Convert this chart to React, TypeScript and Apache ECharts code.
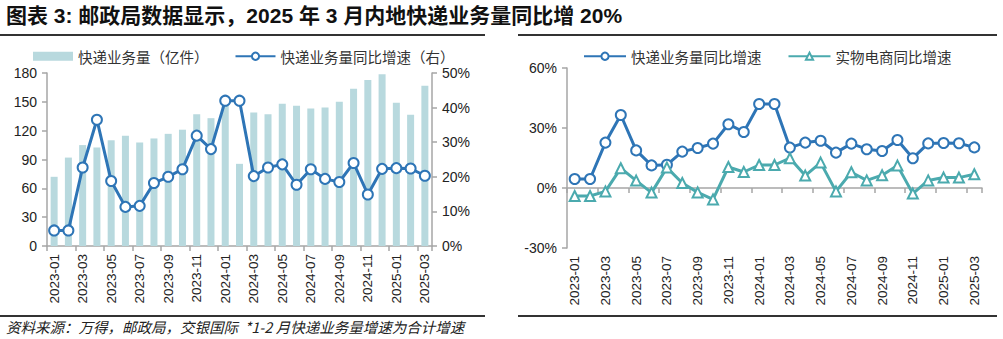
import React, { useEffect, useRef } from "react";
import * as echarts from "echarts";

const months = [
  "2023-01","2023-02","2023-03","2023-04","2023-05","2023-06","2023-07","2023-08","2023-09","2023-10","2023-11","2023-12",
  "2024-01","2024-02","2024-03","2024-04","2024-05","2024-06","2024-07","2024-08","2024-09","2024-10","2024-11","2024-12",
  "2025-01","2025-02","2025-03",
];
const volume = [72, 92, 105, 102.5, 110, 114.7, 107.7, 111.9, 116.7, 121, 137, 133, 146, 85.5, 139, 137, 148, 146, 143, 144, 150, 163.7, 172.7, 178.6, 149, 136.5, 166.8];
const volumeGrowth = [4.5, 4.5, 22.7, 36.5, 18.8, 11.3, 11.6, 18.2, 20, 22.2, 31.9, 28, 42, 42, 20.2, 22.7, 23.6, 17.7, 22.2, 19.4, 18.5, 24, 14.9, 22.3, 22.5, 22.4, 20.3];
const ecomGrowth = [-4, -4, -1.7, 9.9, 3.7, -2.3, 10.2, 2.5, -2.2, -5.7, 10.5, 8, 11.5, 11.5, 14.9, 6.2, 12.7, -1.7, 7.9, 3.8, 6.4, 11.2, -2.8, 3.8, 5.2, 5.2, 6.9];
const leftTicks = [0, 30, 60, 90, 120, 150, 180];

const BLUE = "#2E75B6";
const TEAL = "#4BAAAE";
const BAR = "#B8D9DE";
const AXIS = "#A6A6A6";
const TXT = "#222";
const FONT = "'Liberation Sans', 'Noto Sans CJK SC', sans-serif";
const CJK = "'Noto Sans CJK SC', 'Liberation Sans', sans-serif";

export default function App() {
  const ref = useRef<HTMLDivElement>(null);
  useEffect(() => {
    if (!ref.current) return;
    const chart = echarts.init(ref.current, null, { renderer: "svg" });
    const yCommon = {
      axisLine: { show: true, lineStyle: { color: AXIS, width: 1.5 } },
      axisTick: { show: true, length: 5, lineStyle: { color: AXIS, width: 1.5 } },
      splitLine: { show: false },
      axisLabel: { color: TXT, fontSize: 14, fontFamily: FONT, margin: 10 },
    };
    const xLabel = { interval: 1, rotate: 90, color: TXT, fontSize: 13.5, fontFamily: FONT, margin: 8 };
    chart.setOption({
      animation: false,
      textStyle: { fontFamily: FONT },
      grid: [
        { left: 47, right: 571, top: 73, bottom: 93 },
        { left: 567, right: 21, top: 68, bottom: 91 },
      ],
      legend: [
        {
          data: [
            { name: "快递业务量（亿件）", icon: "rect" },
            { name: "快递业务量同比增速（右）" },
          ],
          left: 28, top: 44, itemGap: 26, itemWidth: 40, itemHeight: 9,
          textStyle: { fontSize: 14.5, color: "#333", fontFamily: CJK },
        },
        {
          data: ["快递业务量同比增速", "实物电商同比增速"],
          left: 578, top: 44, itemGap: 26, itemWidth: 42, itemHeight: 9,
          textStyle: { fontSize: 14.5, color: "#333", fontFamily: CJK },
        },
      ],
      xAxis: [
        {
          type: "category", gridIndex: 0, data: months, boundaryGap: true,
          axisLine: { show: true, lineStyle: { color: AXIS, width: 1.5 } },
          axisTick: { show: true, interval: 1, length: 5, lineStyle: { color: AXIS, width: 1.5 } },
          axisLabel: xLabel,
        },
        {
          type: "category", gridIndex: 1, data: months, boundaryGap: true, position: "bottom",
          axisLine: { show: false, onZero: false },
          axisTick: { show: false },
          axisLabel: xLabel,
        },
        {
          type: "category", gridIndex: 1, data: months, boundaryGap: true, position: "top",
          axisLine: { show: true, onZero: true, lineStyle: { color: AXIS, width: 1.5 } },
          axisTick: { show: true, inside: true, interval: 1, length: 5, lineStyle: { color: AXIS, width: 1.5 } },
          axisLabel: { show: false },
        },
      ],
      yAxis: [
        { type: "value", gridIndex: 0, position: "left", min: leftTicks[0], max: leftTicks[leftTicks.length - 1], interval: 30, ...yCommon },
        {
          type: "value", gridIndex: 0, position: "right", min: 0, max: 50, interval: 10, ...yCommon,
          axisLabel: { ...yCommon.axisLabel, formatter: "{value}%" },
        },
        {
          type: "value", gridIndex: 1, position: "left", min: -30, max: 60, interval: 30, ...yCommon,
          axisLabel: { ...yCommon.axisLabel, formatter: "{value}%" },
        },
      ],
      series: [
        {
          name: "快递业务量（亿件）", type: "bar", xAxisIndex: 0, yAxisIndex: 0, data: volume,
          barWidth: 7, itemStyle: { color: BAR },
        },
        {
          name: "快递业务量同比增速（右）", type: "line", xAxisIndex: 0, yAxisIndex: 1, data: volumeGrowth,
          symbol: "circle", symbolSize: 10, z: 3, showAllSymbol: true,
          lineStyle: { color: BLUE, width: 3 },
          itemStyle: { color: "#fff", borderColor: BLUE, borderWidth: 2 },
        },
        {
          name: "快递业务量同比增速", type: "line", xAxisIndex: 1, yAxisIndex: 2, data: volumeGrowth,
          symbol: "circle", symbolSize: 10, z: 3, showAllSymbol: true,
          lineStyle: { color: BLUE, width: 3 },
          itemStyle: { color: "#fff", borderColor: BLUE, borderWidth: 2 },
        },
        {
          name: "实物电商同比增速", type: "line", xAxisIndex: 1, yAxisIndex: 2, data: ecomGrowth,
          symbol: "triangle", symbolSize: 10, z: 4, showAllSymbol: true,
          lineStyle: { color: TEAL, width: 3 },
          itemStyle: { color: "#fff", borderColor: TEAL, borderWidth: 2 },
        },
      ],
      graphic: [
        {
          type: "text", left: 6, top: 5,
          style: {
            text: "图表 3: 邮政局数据显示，2025 年 3 月内地快递业务量同比增 20%",
            fontSize: 21, fontWeight: "bold", fill: "#111", fontFamily: FONT,
          },
        },
        { type: "line", shape: { x1: 0, y1: 35, x2: 485, y2: 35 }, style: { stroke: "#333", lineWidth: 2 } },
        { type: "line", shape: { x1: 518, y1: 35, x2: 997, y2: 35 }, style: { stroke: "#333", lineWidth: 2 } },
        { type: "line", shape: { x1: 0, y1: 316, x2: 485, y2: 316 }, style: { stroke: "#333", lineWidth: 2 } },
        { type: "line", shape: { x1: 518, y1: 316, x2: 997, y2: 316 }, style: { stroke: "#333", lineWidth: 2 } },
        {
          type: "text", left: 6, top: 319,
          style: {
            text: "资料来源：万得，邮政局，交银国际  *1-2 月快递业务量增速为合计增速",
            fontSize: 14.5, fontStyle: "italic", fill: TXT, fontFamily: CJK,
          },
        },
      ],
    });
    return () => chart.dispose();
  }, []);
  return <div ref={ref} style={{ position: "fixed", left: 0, top: 0, width: 1003, height: 339, background: "#fff" }} />;
}
